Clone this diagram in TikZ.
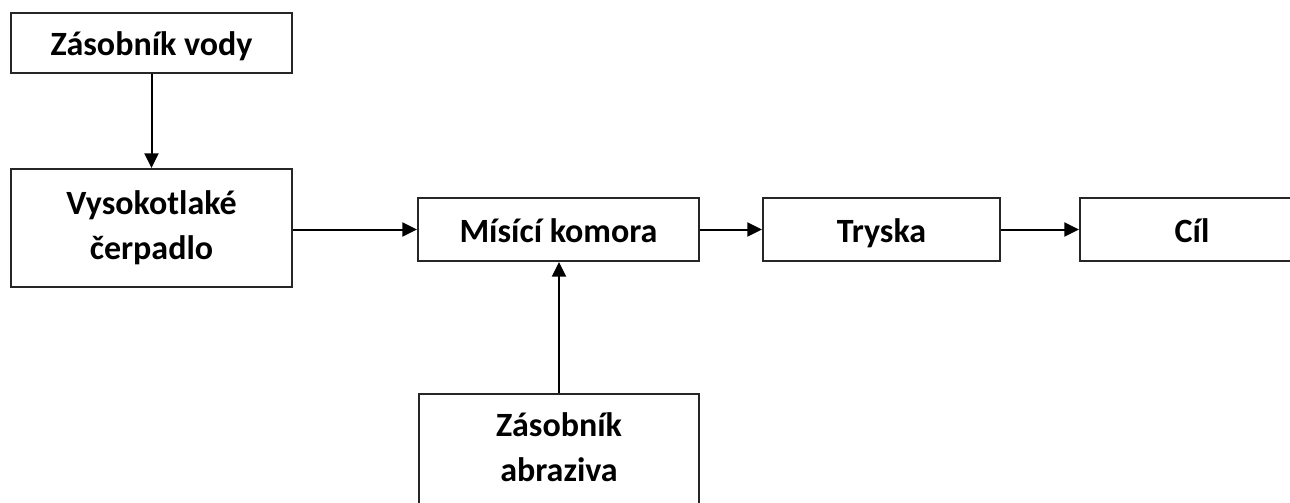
\documentclass[tikz,border=0pt]{standalone}
\usepackage{fontspec}
\setmainfont{Carlito}
\usetikzlibrary{arrows.meta}
\begin{document}
\begin{tikzpicture}[x=0.75pt,y=-0.75pt,
  box/.style={draw=black!85, line width=1.5pt, fill=white, inner sep=0pt, align=center,
    font=\fontsize{25.5}{34}\selectfont\bfseries},
  one/.style={box, text height=22pt, text depth=2.5pt},
  arr/.style={line width=1.5pt, -{Triangle[length=11pt,width=10.5pt]}}]
\useasboundingbox (0,0) rectangle (1290,503);
\clip (0,0) rectangle (1290,503);
\node[one, minimum width=281*0.75pt, minimum height=60*0.75pt] (A) at (151.5,43) {Zásobník vody};
\node[box, minimum width=281*0.75pt, minimum height=118*0.75pt] (B) at (151.5,228) {\strut Vysokotlaké\\čerpadlo\strut};
\node[one, minimum width=281*0.75pt, minimum height=63*0.75pt] (C) at (558.5,229.5) {Mísící komora};
\node[one, minimum width=237*0.75pt, minimum height=63*0.75pt] (D) at (881.5,229.5) {Tryska};
\node[one, minimum width=224*0.75pt, minimum height=63*0.75pt] (E) at (1192,229.5) {Cíl};
\node[box, minimum width=280*0.75pt, minimum height=112*0.75pt] (F) at (559,450) {\strut Zásobník\\abraziva\strut};
\draw[arr] (A.south) -- (B.north);
\draw[arr] (C.west -| B.east) -- (C.west);
\draw[arr] (C.east) -- (D.west);
\draw[arr] (D.east) -- (E.west);
\draw[arr] (F.north) -- (F.north |- C.south);
\end{tikzpicture}
\end{document}
